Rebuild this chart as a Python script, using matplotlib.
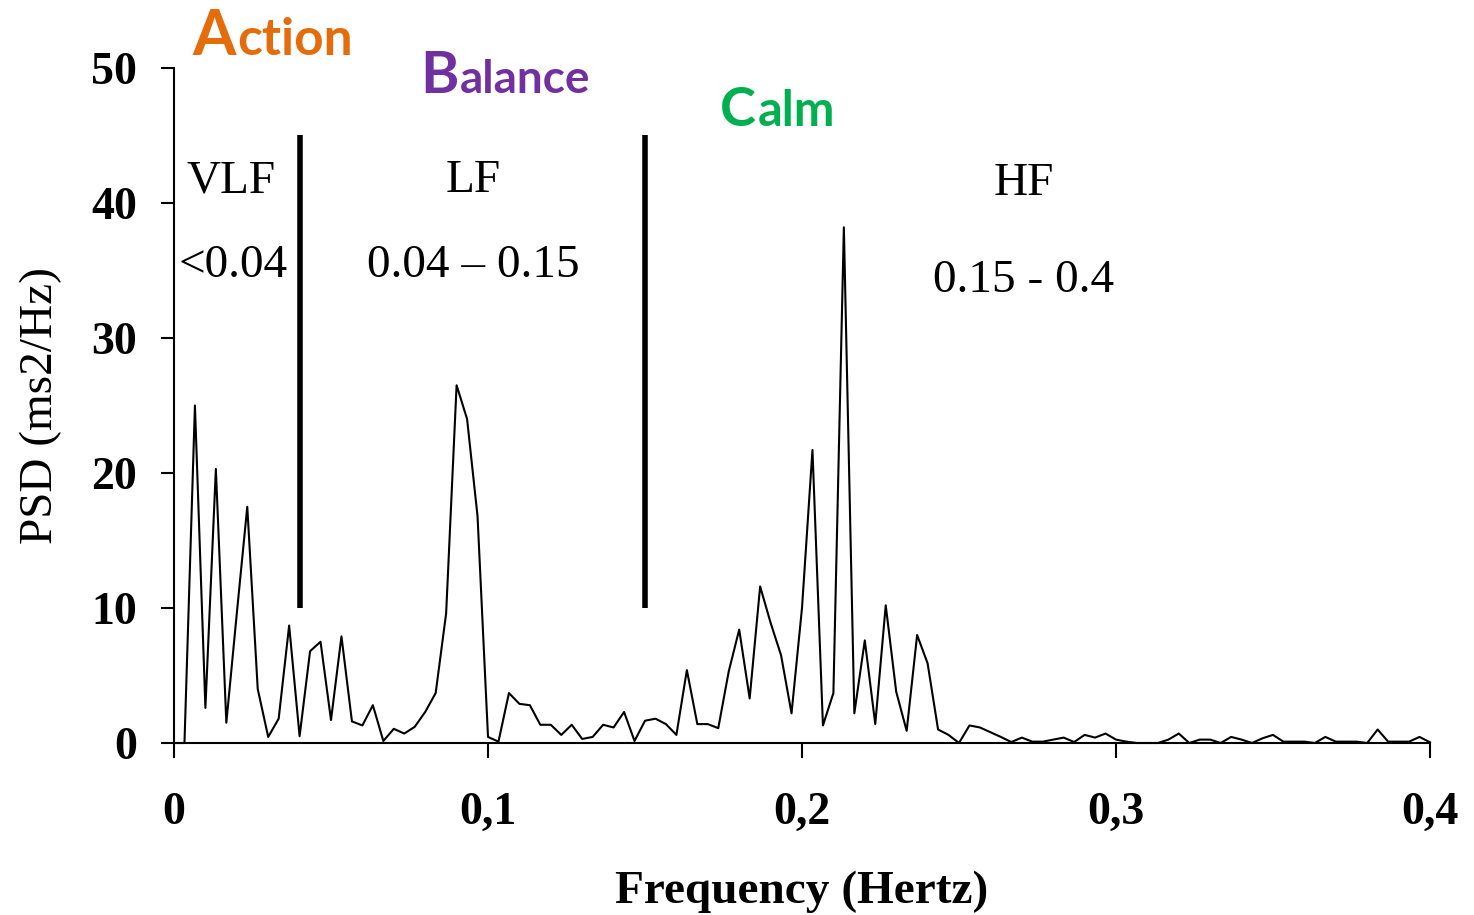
import numpy as np
import matplotlib
matplotlib.use("Agg")
import matplotlib.pyplot as plt

# PSD spectrum, frequency bins 0..0.4 Hz
freq = np.linspace(0, 0.4, 121)
psd = [0, 0, 25.0, 2.6, 20.3, 1.5, 9.6, 17.5, 4.0, 0.45,
       1.8, 8.7, 0.5, 6.8, 7.5, 1.7, 7.9, 1.6, 1.3, 2.8,
       0.15, 1.05, 0.7, 1.2, 2.3, 3.7, 9.6, 26.5, 24.0, 16.8,
       0.45, 0.1, 3.7, 2.9, 2.8, 1.35, 1.35, 0.6, 1.35, 0.3,
       0.45, 1.35, 1.15, 2.3, 0.15, 1.65, 1.8, 1.4, 0.6, 5.4,
       1.4, 1.4, 1.1, 5.3, 8.4, 3.3, 11.6, 8.9, 6.5, 2.2,
       10.0, 21.7, 1.3, 3.7, 38.2, 2.2, 7.6, 1.4, 10.2, 3.8,
       0.9, 8.0, 5.9, 1.0, 0.6, 0.0, 1.3, 1.15, 0.8, 0.45,
       0.07, 0.4, 0.1, 0.1, 0.25, 0.4, 0.07, 0.6, 0.4, 0.7,
       0.25, 0.1, 0, 0, 0, 0.25, 0.7, 0, 0.25, 0.25,
       0, 0.45, 0.25, 0, 0.35, 0.6, 0.1, 0.1, 0.1, 0,
       0.45, 0.1, 0.1, 0.1, 0, 1.0, 0.1, 0.1, 0.1, 0.45,
       0.05]

band_edges = [0.04, 0.15]
band_names = ["VLF", "LF", "HF"]
band_ranges = ["<0.04", "0.04 \u2013 0.15", "0.15 - 0.4"]

xticks = [0, 0.1, 0.2, 0.3, 0.4]
xticklabels = ["0", "0,1", "0,2", "0,3", "0,4"]
yticks = [0, 10, 20, 30, 40, 50]

W, H = 1474, 915
serif = "Liberation Serif"

fig = plt.figure(figsize=(W / 100, H / 100), dpi=100)
ax = fig.add_axes([174 / W, 1 - 743 / H, (1430 - 174) / W, (743 - 68) / H])

ax.plot(freq, psd, color="black", linewidth=1.5, clip_on=False, zorder=3)
ax.vlines(band_edges, 10, 45, color="black", linewidth=4)

ax.set_xlim(0, 0.4)
ax.set_ylim(0, 50)
for s in ["top", "right"]:
    ax.spines[s].set_visible(False)
for s in ["left", "bottom"]:
    ax.spines[s].set_linewidth(1.5)

ax.set_xticks(xticks)
ax.set_xticklabels(xticklabels)
ax.set_yticks(yticks)
ax.tick_params(axis="y", direction="out", length=9.5, width=1.5, pad=17)
ax.tick_params(axis="x", direction="out", length=11, width=1.5, pad=24)
for lab in ax.get_xticklabels() + ax.get_yticklabels():
    lab.set_fontfamily(serif)
    lab.set_fontweight("bold")
    lab.set_fontsize(33)

# band labels
name_pos = [(0.0182, 40.8), (0.0952, 40.8), (0.2707, 40.6)]
range_pos = [(0.0188, 34.5), (0.0952, 34.5), (0.2707, 33.4)]
for name, (x, y) in zip(band_names, name_pos):
    ax.text(x, y, name, ha="center", va="baseline", fontsize=34, family=serif)
for rng, (x, y) in zip(band_ranges, range_pos):
    ax.text(x, y, rng, ha="center", va="baseline", fontsize=34, family=serif)

fig.text(802 / W, 1 - 903 / H, "Frequency (Hertz)", ha="center", va="baseline",
         fontsize=34, fontweight="bold", family=serif)
fig.text(62 / W, 1 - 405 / H, "PSD (ms2/Hz)", ha="right", va="center",
         rotation=90, fontsize=34, family=serif)

# coloured titles: big first letter + smaller rest
renderer = fig.canvas.get_renderer()


def two_part(x_px, base_px, big, rest, color, big_size, small_size):
    t = fig.text(x_px / W, 1 - base_px / H, big, ha="left", va="baseline",
                 fontsize=big_size, fontweight="bold", family="Lato", color=color)
    bb = t.get_window_extent(renderer=renderer)
    fig.text(bb.x1 / W + 0.001, 1 - base_px / H, rest, ha="left", va="baseline",
             fontsize=small_size, fontweight="bold", family="Lato", color=color)


two_part(192, 55, "A", "ction", "#E46C0A", 45, 37)
two_part(420, 93, "B", "alance", "#7030A0", 42, 33)
two_part(720, 126, "C", "alm", "#00B050", 39, 35)

fig.savefig("out.png", dpi=100)
